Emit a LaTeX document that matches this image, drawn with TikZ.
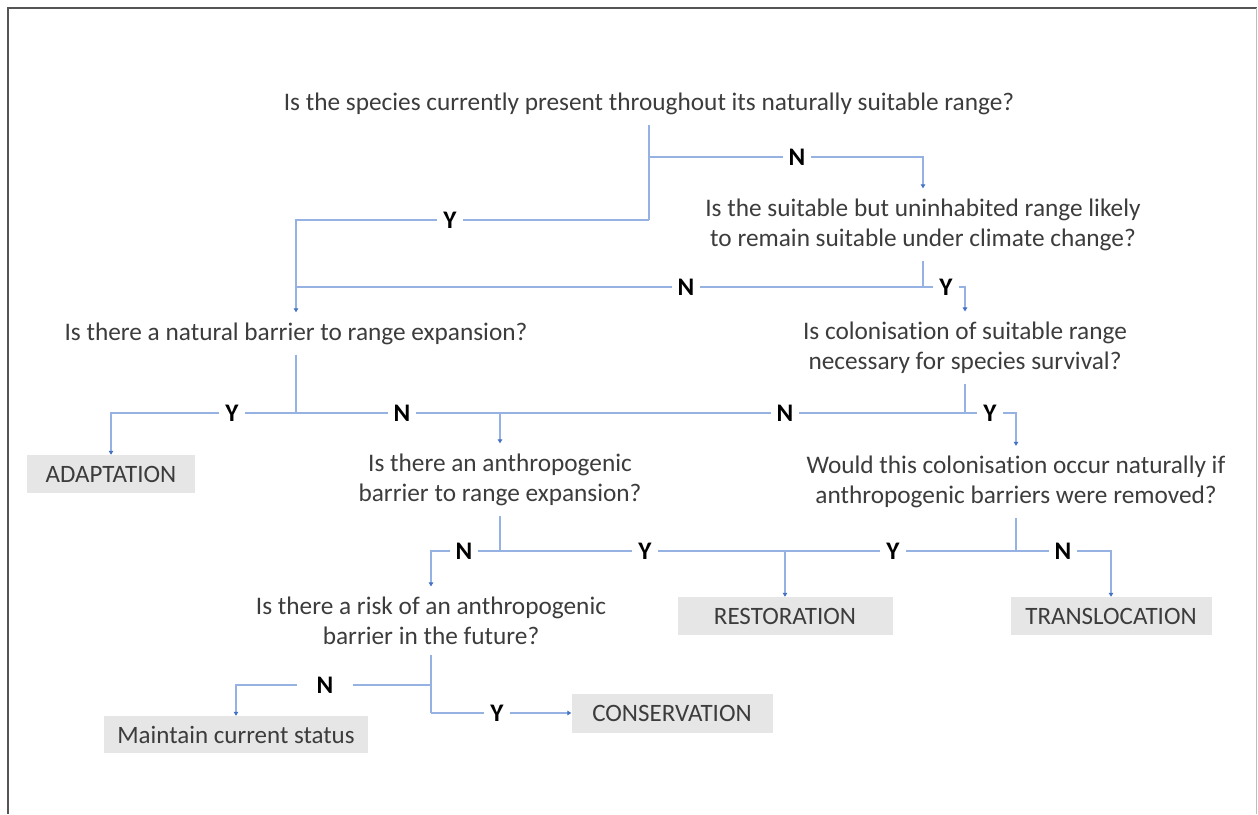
\documentclass[tikz,border=0pt]{standalone}
\usepackage{fontspec}
\setmainfont{Carlito}[Ligatures=NoCommon]
\usetikzlibrary{arrows.meta}
\definecolor{txtgray}{RGB}{60,60,60}
\definecolor{lineblue}{RGB}{150,178,226}
\definecolor{tipblue}{RGB}{68,114,196}
\definecolor{boxgray}{RGB}{231,230,230}
\definecolor{framedark}{RGB}{85,85,85}
\definecolor{framelight}{RGB}{190,190,190}
\newcommand{\qsize}{\fontsize{25.3}{30}\selectfont}
\newcommand{\osize}{\fontsize{25}{30}\selectfont}
\begin{document}
\begin{tikzpicture}[x=1pt,y=-1pt,
  question/.style={text=txtgray, font=\qsize, align=center, inner xsep=0pt, inner ysep=10pt},
  yn/.style={font=\qsize\bfseries, text=black, fill=white, inner xsep=6pt, inner ysep=1pt},
  outcome/.style={fill=boxgray, text=txtgray, font=\osize, inner sep=0pt},
  conn/.style={draw=lineblue, line width=1.2pt},
  arr/.style={conn, -{Triangle[length=4pt,width=4.5pt,color=tipblue]}}]
\useasboundingbox (0,0) rectangle (1258,814);
% frame
\draw[framedark, line width=2pt] (8,814) -- (8,8) -- (1257,8);
\draw[framelight, line width=1pt] (1256,8) -- (1256,814);

% questions
\node[question] (q1) at (649,103.5) {Is the species currently present throughout its naturally suitable range?};
\node[question] (q2) at (923,224.5) {Is the suitable but uninhabited range likely\\to remain suitable under climate change?};
\node[question] (q3) at (296,333.5) {Is there a natural barrier to range expansion?};
\node[question] (q4) at (965,347.5) {Is colonisation of suitable range\\necessary for species survival?};
\node[question] (q5) at (500,479.5) {Is there an anthropogenic\\barrier to range expansion?};
\node[question] (q6) at (1016,482) {Would this colonisation occur naturally if\\anthropogenic barriers were removed?};
\node[question] (q7) at (431,620.5) {Is there a risk of an anthropogenic\\barrier in the future?};

% outcomes
\node[outcome, minimum width=168pt, minimum height=38pt] (adapt) at (111,474) {ADAPTATION};
\node[outcome, minimum width=215pt, minimum height=38pt] (rest) at (785,616) {RESTORATION};
\node[outcome, minimum width=201pt, minimum height=38pt] (trans) at (1111,616) {TRANSLOCATION};
\node[outcome, minimum width=264pt, minimum height=37pt] (maint) at (236,734.5) {Maintain current status};
\node[outcome, minimum width=201pt, minimum height=39pt] (cons) at (672,713) {CONSERVATION};

% junctions
\coordinate (j1n) at (649,157);
\coordinate (j1y) at (649,220);
\coordinate (j2) at (923,287);
\coordinate (j3) at (296,413);
\coordinate (j4) at (965,413);
\coordinate (j5) at (500,551);
\coordinate (jr) at (785,551);
\coordinate (j6) at (1016,551);
\coordinate (j7n) at (431,685);
\coordinate (j7y) at (431,713);

% connectors
\draw[conn] (q1.south) -- (j1y);
\draw[arr] (j1n) -| (q2.north);
\draw[arr] (j1y) -| (q3.north);
\draw[conn] (q2.south) -- (j2) -- (j2 -| q3);
\draw[arr] (j2) -| (q4.north);
\draw[conn] (q3.south) -- (j3);
\draw[arr] (j3) -| (adapt.north);
\draw[arr] (j3) -| (q5.north);
\draw[conn] (q4.south) -- (j4) -- (j4 -| q5);
\draw[arr] (j4) -| (q6.north);
\draw[conn] (q5.south) -- (j5);
\draw[arr] (j5) -| (q7.north);
\draw[conn] (j5) -- (j6);
\draw[arr] (jr) -- (rest.north);
\draw[conn] (q6.south) -- (j6);
\draw[arr] (j6) -| (trans.north);
\draw[conn] (q7.south) -- (j7y);
\draw[arr] (j7n) -| (maint.north);
\draw[arr] (j7y) -- (j7y -| cons.west);

% labels
\node[yn] (l1) at (797,157) {N};
\node[yn] (l2) at (450,220) {Y};
\node[yn] (l3) at (686,287) {N};
\node[yn] (l4) at (946,287) {Y};
\node[yn] (l5) at (232,413) {Y};
\node[yn] (l6) at (402,413) {N};
\node[yn] (l7) at (785,413) {N};
\node[yn] (l8) at (990,413) {Y};
\node[yn] (l9) at (464,551) {N};
\node[yn] (l10) at (645,551) {Y};
\node[yn] (l11) at (893,551) {Y};
\node[yn] (l12) at (1063,551) {N};
\node[yn, inner xsep=20pt] (l13) at (325,685) {N};
\node[yn] (l14) at (497,713) {Y};
\end{tikzpicture}
\end{document}
